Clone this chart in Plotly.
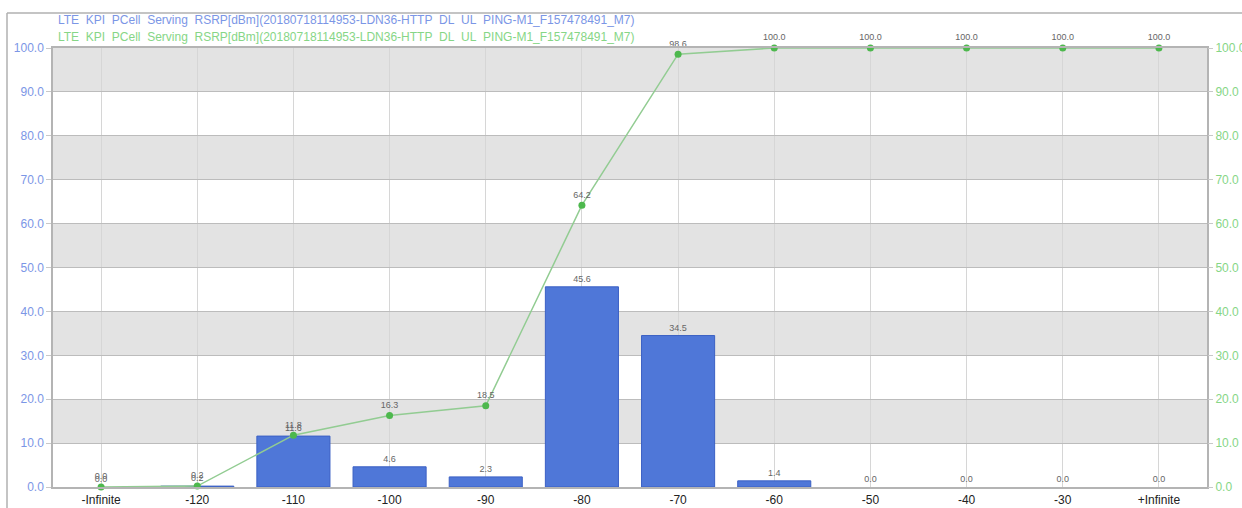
import plotly.graph_objects as go

# RSRP bins (dBm) and distribution values (%)
categories = ["-Infinite", "-120", "-110", "-100", "-90", "-80", "-70",
              "-60", "-50", "-40", "-30", "+Infinite"]
pdf_values = [0.0, 0.2, 11.6, 4.6, 2.3, 45.6, 34.5, 1.4, 0.0, 0.0, 0.0, 0.0]
cdf_values = [0.0, 0.2, 11.8, 16.3, 18.5, 64.2, 98.6, 100.0, 100.0, 100.0, 100.0, 100.0]
y_ticks = [0, 10, 20, 30, 40, 50, 60, 70, 80, 90, 100]

series_name = "LTE  KPI  PCell  Serving  RSRP[dBm](20180718114953-LDN36-HTTP  DL  UL  PING-M1_F157478491_M7)"

BLUE = "#4f77d8"
BLUE_EDGE = "#3b60c4"
BLUE_TEXT = "#7b96e6"
GREEN_LINE = "#92cc92"
GREEN_MARK = "#4db84d"
GREEN_TEXT = "#86d686"
FONT = "Liberation Sans, Arial, sans-serif"

fig = go.Figure()

fig.add_trace(go.Bar(
    x=categories, y=pdf_values,
    marker=dict(color=BLUE,
                line=dict(color=BLUE_EDGE,
                          width=[1 if v > 0 else 0 for v in pdf_values])),
    width=0.76,
    text=[f"{v:.1f}" for v in pdf_values],
    textposition="outside",
    textfont=dict(size=9, color="#666666", family=FONT),
    cliponaxis=False,
    showlegend=False,
    yaxis="y",
))

fig.add_trace(go.Scatter(
    x=categories, y=cdf_values,
    mode="lines+markers+text",
    line=dict(color=GREEN_LINE, width=1.5),
    marker=dict(color=GREEN_MARK, size=7),
    text=[f"{v:.1f}" for v in cdf_values],
    textposition="top center",
    textfont=dict(size=9, color="#666666", family=FONT),
    cliponaxis=False,
    showlegend=False,
    yaxis="y2",
))

# alternating grey bands behind the grid
shapes = []
for lo in range(10, 100, 20):
    shapes.append(dict(type="rect", xref="paper", yref="y", x0=0, x1=1,
                       y0=lo, y1=lo + 10, fillcolor="#e3e3e3",
                       line=dict(width=0), layer="below"))

# outer frame (top and left edges)
frame_x = (7 - 53) / 1154
frame_top = (487 - 13) / 439
shapes.append(dict(type="line", xref="paper", yref="paper",
                   x0=frame_x, x1=1.05, y0=frame_top, y1=frame_top,
                   line=dict(color="#b0b0b0", width=1.5)))
shapes.append(dict(type="line", xref="paper", yref="paper",
                   x0=frame_x, x1=frame_x, y0=frame_top, y1=-0.06,
                   line=dict(color="#b0b0b0", width=1.5)))

name = series_name.replace(" ", "\u00a0")
annotations = [
    dict(text=name, xref="paper", yref="paper", x=0.003, y=(487 - 20) / 439,
         xanchor="left", yanchor="middle", showarrow=False,
         font=dict(size=12, color=BLUE_TEXT, family=FONT)),
    dict(text=name, xref="paper", yref="paper", x=0.003, y=(487 - 37) / 439,
         xanchor="left", yanchor="middle", showarrow=False,
         font=dict(size=12, color=GREEN_TEXT, family=FONT)),
]

fig.update_layout(
    width=1242, height=508,
    margin=dict(l=53, r=35, t=48, b=21),
    paper_bgcolor="white",
    plot_bgcolor="white",
    bargap=0.24,
    shapes=shapes,
    annotations=annotations,
    font=dict(family=FONT),
    xaxis=dict(
        type="category",
        categoryorder="array", categoryarray=categories,
        range=[-0.5, len(categories) - 0.5],
        automargin=False,
        showgrid=True, gridcolor="#d6d6d6", gridwidth=1,
        showline=True, linecolor="#b4b4b4", linewidth=1.5, mirror=True,
        ticks="", tickfont=dict(size=12, color="#222222", family=FONT),
        ticklabelstandoff=1,
    ),
    yaxis=dict(
        range=[0, 100], tickvals=y_ticks,
        ticktext=[f"{v:.1f}" for v in y_ticks],
        automargin=False,
        showgrid=True, gridcolor="#bcbcbc", gridwidth=1.2,
        zeroline=False,
        showline=True, linecolor="#b4b4b4", linewidth=1.5, mirror=True,
        ticks="outside", ticklen=5, tickcolor="#c8c8c8",
        tickfont=dict(size=12, color=BLUE_TEXT, family=FONT),
    ),
    yaxis2=dict(
        range=[0, 100], tickvals=y_ticks,
        ticktext=[f"{v:.1f}" for v in y_ticks],
        overlaying="y", side="right",
        automargin=False,
        showgrid=False, zeroline=False,
        ticks="outside", ticklen=5, tickcolor="#c8c8c8",
        tickfont=dict(size=12, color=GREEN_TEXT, family=FONT),
    ),
)

fig.write_html("out.html")
